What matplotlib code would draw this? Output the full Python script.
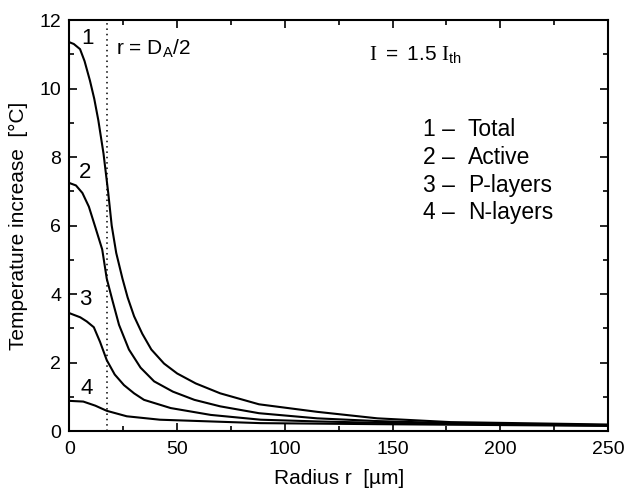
import numpy as np
import matplotlib
matplotlib.use('Agg')
import matplotlib.pyplot as plt
from matplotlib.ticker import MultipleLocator

plt.rcParams['font.family'] = ['Liberation Sans', 'DejaVu Sans']
plt.rcParams['mathtext.fontset'] = 'custom'
plt.rcParams['mathtext.rm'] = 'Liberation Serif'
plt.rcParams['mathtext.sf'] = 'Liberation Sans'
plt.rcParams['mathtext.it'] = 'Liberation Sans:italic'

# Temperature profiles (radius in um, dT in degC)
r_total = [0, 2, 4.9, 7, 9.5, 11.5, 13.4, 15.8, 18, 19.6, 21.7, 24.6, 27, 30, 33.8, 38, 43.9,
           50, 58.6, 70, 88, 115, 143, 177, 250]
t_total = [11.35, 11.3, 11.15, 10.8, 10.23, 9.7, 9.07, 8.1, 6.95, 6.0, 5.2, 4.45, 3.9, 3.35,
           2.84, 2.38, 1.97, 1.68, 1.39, 1.1, 0.78, 0.56, 0.37, 0.26, 0.19]

r_active = [0, 3, 6, 9, 12, 15.2, 17.3, 20, 23, 27.6, 33, 39.3, 48, 58, 70, 88, 115, 143, 177,
            250]
t_active = [7.24, 7.17, 6.95, 6.55, 5.95, 5.3, 4.45, 3.8, 3.1, 2.38, 1.85, 1.45, 1.15, 0.91,
            0.72, 0.52, 0.37, 0.29, 0.23, 0.17]

r_p = [0, 5, 8, 11.3, 14.2, 17.3, 21, 25.3, 30, 34.6, 47, 65.6, 88.8, 115, 143, 177, 250]
t_p = [3.44, 3.32, 3.2, 3.03, 2.6, 2.07, 1.65, 1.34, 1.1, 0.91, 0.67, 0.47, 0.33, 0.28, 0.24,
       0.21, 0.16]

r_n = [0, 6.4, 12, 17.3, 26.6, 42, 88.8, 143, 250]
t_n = [0.88, 0.86, 0.74, 0.59, 0.43, 0.33, 0.23, 0.2, 0.15]

curve_ids = ['1', '2', '3', '4']
curve_names = ['Total', 'Active', 'P-layers', 'N-layers']
label_pos = [(8.5, 11.45), (7.3, 7.55), (7.3, 3.85), (8.0, 1.25)]

r_aperture = 17.5  # r = D_A/2

fig = plt.figure(figsize=(6.26, 4.94), dpi=100)
ax = fig.add_axes([0.111, 0.1275, 0.860, 0.832])

for r, t in [(r_total, t_total), (r_active, t_active), (r_p, t_p), (r_n, t_n)]:
    ax.plot(r, t, color='black', lw=1.5)

ax.axvline(r_aperture, color='black', lw=1.1, ls=(0, (1, 2.5)))

for cid, (x, y) in zip(curve_ids, label_pos):
    ax.text(x, y, cid, fontsize=16, ha='center', va='center')

ax.text(21.4, 11.15, r'r = D$_\mathsf{A}$/2', fontsize=15, ha='left', va='center')
ax.text(139, 10.96, r'$\mathrm{I}\ \mathsf{=\ 1.5}\ \mathrm{I}_{\mathsf{th}}$', fontsize=15,
        ha='left', va='center')

# legend as plain text
for i, (cid, name) in enumerate(zip(curve_ids, curve_names)):
    y = 8.8 - i * 0.81
    ax.text(164, y, cid + ' \u2013', fontsize=16.5, ha='left', va='center')
    ax.text(185, y, name, fontsize=16.5, ha='left', va='center')

ax.set_xlim(0, 250)
ax.set_ylim(0, 12)
ax.xaxis.set_major_locator(MultipleLocator(50))
ax.xaxis.set_minor_locator(MultipleLocator(25))
ax.yaxis.set_major_locator(MultipleLocator(2))
ax.yaxis.set_minor_locator(MultipleLocator(1))
ax.tick_params(which='both', direction='in', top=True, right=True, width=1.2, labelsize=14)
ax.tick_params(which='major', length=6)
ax.tick_params(axis='x', which='major', pad=7)
ax.tick_params(axis='y', which='major', pad=6)
ax.tick_params(which='minor', length=3.5)
for s in ax.spines.values():
    s.set_linewidth(1.5)

ax.set_xlabel('Radius r  [\u00b5m]', fontsize=15, labelpad=8)
ax.set_ylabel('Temperature increase  [\u00b0C]', fontsize=15, labelpad=8)

fig.savefig('out.png', dpi=100)
